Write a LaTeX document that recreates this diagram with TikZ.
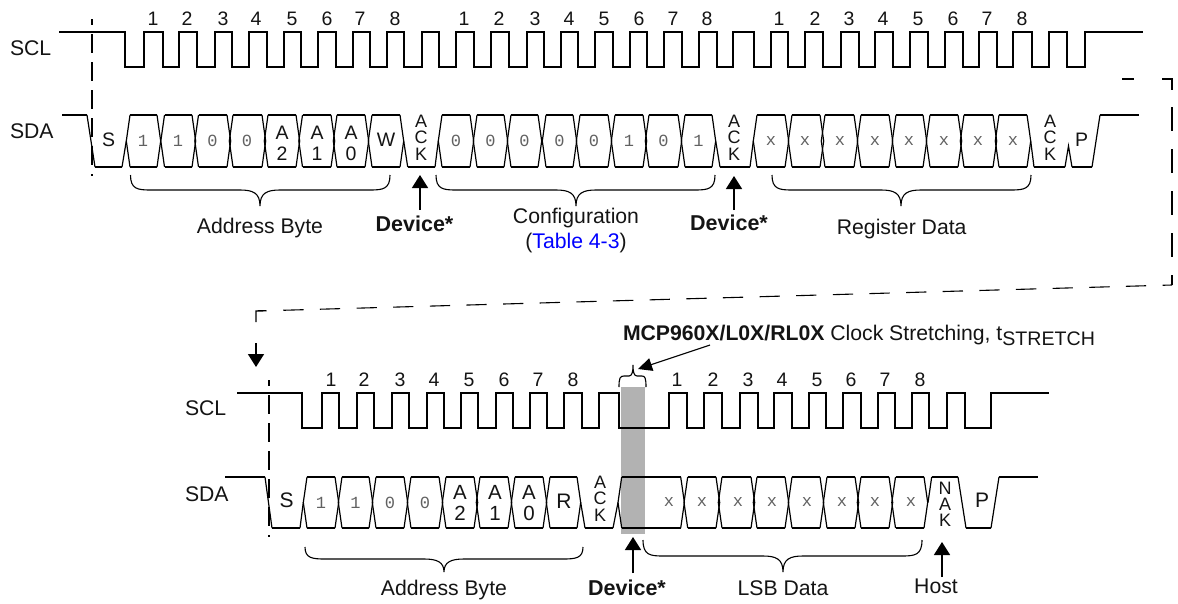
\documentclass[tikz,border=0pt]{standalone}
\usepackage{fontspec}
\setmainfont{Liberation Sans}
\newfontfamily\monof{Liberation Mono}
\usetikzlibrary{arrows.meta}
\definecolor{linkblue}{RGB}{0,0,255}
\tikzset{
  sig/.style={line width=1.6pt,line join=miter,black},
  thin slant/.style={line width=1.2pt,black},
  lab/.style={anchor=base,inner sep=0pt,outer sep=0pt,text=black!92,font=\fontsize{21.2}{24}\selectfont},
  num/.style={anchor=base,inner sep=0pt,outer sep=0pt,text=black!92,font=\fontsize{19.5}{20}\selectfont},
  bit/.style={anchor=base,inner sep=0pt,outer sep=0pt,text=black!92,font=\fontsize{19.5}{20}\selectfont},
  mono/.style={anchor=center,inner sep=0pt,outer sep=0pt,text=black!62,font=\monof\fontsize{17}{20}\selectfont},
  stack/.style={anchor=base,inner sep=0pt,outer sep=0pt,text=black!92,align=center,font=\fontsize{18}{16.3}\selectfont},
  boldlab/.style={lab,font=\bfseries\fontsize{21.5}{24}\selectfont},
  brace/.style={line width=1.1pt,black},
  upar/.style={line width=1.6pt,black,-{Triangle[length=13pt,width=16pt]}},
  vdash/.style={line width=1.6pt,black,dash pattern=on 19pt off 9pt},
  rdash/.style={line width=1.4pt,black,dash pattern=on 23.5pt off 18.5pt},
  sdash/.style={line width=1.1pt,black,dash pattern=on 20.3pt off 16.35pt},
}
% hexagonal data cell: left, right, top, bottom
\newcommand{\hexcell}[4]{%
  \draw[sig] (#1,#3)--(#2,#3) (#1,#4)--(#2,#4);
  \draw[thin slant] (#1,#3)--({#1-3.7},{(#3+#4)/2})--(#1,#4) (#2,#3)--({#2+3.7},{(#3+#4)/2})--(#2,#4);
}
\newcommand{\curlybrace}[6]{% x1, xmid, x2, yend, yline, ytip
  \draw[brace] (#1,#4) .. controls (#1,{#5-1}) and ({#1+7},#5) .. ({#1+20},#5)
    -- ({#2-20},#5) .. controls ({#2-7},#5) and (#2,{#5+3}) .. (#2,#6)
    .. controls (#2,{#5+3}) and ({#2+7},#5) .. ({#2+20},#5)
    -- ({#3-20},#5) .. controls ({#3-7},#5) and (#3,{#5-1}) .. (#3,#4);
}
\begin{document}
\begin{tikzpicture}[x=1pt,y=-1pt]
\useasboundingbox (0,0) rectangle (1178,603);
% stretch bar
\fill[black!30] (621,387) rectangle (645,534);
% top SCL
\draw[sig] (59,32) -| (125,67) -| (144,32) -| (163,67) -| (179,32) -| (197,67) -| (215,32) -| (232,67) -| (249,32) -| (267,67) -| (284,32) -| (301,67) -| (318,32) -| (336,67) -| (353,32) -| (370,67) -| (387,32) -| (404,67) -| (422,32) -| (439,67) -| (456,32) -| (474,67) -| (491,32) -| (509,67) -| (527,32) -| (544,67) -| (561,32) -| (578,67) -| (595,32) -| (613,67) -| (630,32) -| (647,67) -| (664,32) -| (682,67) -| (699,32) -| (717,67) -| (733,32) -| (754,67) -| (771,32) -| (788,67) -| (805,32) -| (823,67) -| (841,32) -| (859,67) -| (875,32) -| (893,67) -| (910,32) -| (928,67) -| (945,32) -| (963,67) -| (979,32) -| (997,67) -| (1013,32) -| (1032,67) -| (1049,32) -| (1067,67) -| (1085,32) -- (1143,32);
% bottom SCL
\draw[sig] (237,393) -| (302,428) -| (322,393) -| (339,428) -| (357,393) -| (374,428) -| (392,393) -| (409,428) -| (427,393) -| (444,428) -| (461,393) -| (478,428) -| (496,393) -| (513,428) -| (530,393) -| (547,428) -| (564,393) -| (582,428) -| (599,393) -| (619,428) -| (669,393) -| (687,428) -| (704,393) -| (722,428) -| (740,393) -| (758,428) -| (774,393) -| (792,428) -| (809,393) -| (826,428) -| (843,393) -| (861,428) -| (878,393) -| (895,428) -| (912,393) -| (929,428) -| (947,393) -| (965,428) -| (991,393) -- (1049,393);
% top SDA
\draw[sig] (62,115) -- (87,115);
\draw[thin slant] (87,115) -- (95,167);
\draw[sig] (95,167) -- (122,167);
\draw[thin slant] (122,167) -- (126.3,141);
\foreach \a/\b in {130/157,164.5/192,198.5/227,233/262,268/296,302.5/331,337/365,372/400,442/470,477/504,511/538,546/573,580/608,615/643,649/678,685/712,757/785,792/820,825/854,861/889,896/923,930/958,964/993,999/1027}
  {\hexcell{\a}{\b}{115}{167}}
\draw[thin slant] (403.7,141) -- (407.7,167) (438.3,141) -- (435,167);
\draw[sig] (407.7,167) -- (435,167);
\draw[thin slant] (715.7,141) -- (720,167) (753.3,141) -- (750,167);
\draw[sig] (720,167) -- (750,167);
\draw[thin slant] (1030.7,141) -- (1034,167);
\draw[sig] (1034,167) -- (1065,167);
\draw[thin slant] (1065,167) -- (1068.5,146) -- (1072,167);
\draw[sig] (1072,167) -- (1092,167);
\draw[thin slant] (1092,167) -- (1100,115);
\draw[sig] (1100,115) -- (1139,115);
% bottom SDA
\draw[sig] (225,477) -- (265,477);
\draw[thin slant] (265,477) -- (272,528);
\draw[sig] (272,528) -- (300,528);
\draw[thin slant] (300,528) -- (303.3,502.5);
\foreach \a/\b in {307/335,342/369,376/404,411/439,446/474,480/508,515/543,550/577,621.7/680.7,687.7/716,722/751,757/785,792/820,827/855,861/889,895.5/924}
  {\hexcell{\a}{\b}{477}{528}}
\draw[thin slant] (580.7,502.5) -- (585,528) (618,502.5) -- (613,528);
\draw[sig] (585,528) -- (613,528);
\draw[thin slant] (928,502.5) -- (931.7,477);
\draw[sig] (931.7,477) -- (958,477);
\draw[thin slant] (958,477) -- (966,528);
\draw[sig] (966,528) -- (991,528);
\draw[thin slant] (991,528) -- (999,477);
\draw[sig] (999,477) -- (1038,477);
% clock numbers
\foreach \x [count=\i] in {153,187,223,256,292,327,360,395}
  \node[num] (na\i) at (\x,25) {\i};
\foreach \x [count=\i] in {464,499,535,569,604,639,673,707}
  \node[num] (nb\i) at (\x,25) {\i};
\foreach \x [count=\i] in {779,815,849,883,918,953,987,1022}
  \node[num] (nc\i) at (\x,25) {\i};
\foreach \x [count=\i] in {331,364,400,434,469,504,538,573}
  \node[num] (nd\i) at (\x,386) {\i};
\foreach \x [count=\i] in {677,713,748,782,817,851,885,920}
  \node[num] (ne\i) at (\x,386) {\i};
% signal names
\node[lab,anchor=base west] (scla) at (10,55) {SCL};
\node[lab,anchor=base west] (sdaa) at (10,138) {SDA};
\node[lab,anchor=base west] (sclb) at (185,415) {SCL};
\node[lab,anchor=base west] (sdab) at (185,501) {SDA};
% bit labels, top
\node[bit] (sa) at (108.7,146) {S};
\foreach \x/\t [count=\i] in {143/1,178/1,212.5/0,247/0}
  \node[mono] (ba\i) at (\x,141) {\t};
\foreach \x/\t [count=\i] in {282/2,317/1,351/0}
  \node[stack,font=\fontsize{19.5}{20.5}\selectfont] (ca\i) at (\x,160) {A\\\t};
\node[bit] (wa) at (386,146) {W};
\node[stack] (acka) at (421,160) {A\\C\\K};
\foreach \x/\t [count=\i] in {456/0,490.5/0,524.5/0,559.5/0,594/0,629/1,663.5/0,698.5/1}
  \node[mono] (bb\i) at (\x,141) {\t};
\node[stack] (ackb) at (734,160) {A\\C\\K};
\foreach \x [count=\i] in {771,805,840,875,909,944,978,1013}
  \node[mono] (bc\i) at (\x,141) {x};
\node[stack] (ackc) at (1050,160) {A\\C\\K};
\node[bit] (pa) at (1081.7,146.7) {P};
% bit labels, bottom
\node[bit,font=\fontsize{21}{20}\selectfont] (sb) at (286.7,507) {S};
\foreach \x/\t [count=\i] in {321/1,355.5/1,390/0,425/0}
  \node[mono] (bd\i) at (\x,502.5) {\t};
\foreach \x/\t [count=\i] in {460/2,495/1,529/0}
  \node[stack,font=\fontsize{20.5}{21.2}\selectfont] (cd\i) at (\x,520.7) {A\\\t};
\node[bit,font=\fontsize{21}{20}\selectfont] (rb) at (564,508) {R};
\node[stack] (ackd) at (600,521) {A\\C\\K};
\foreach \x [count=\i] in {669,702,738,772,807,842,875,911}
  \node[mono] (be\i) at (\x,502.5) {x};
\node[stack,font=\fontsize{18}{15.9}\selectfont] (nak) at (945,526.7) {N\\A\\K};
\node[bit,font=\fontsize{21}{20}\selectfont] (pb) at (982,507) {P};
% field labels
\node[lab] (addra) at (260,233) {Address Byte};
\node[boldlab] (deva) at (414.5,231.7) {Device*};
\node[lab] (conf) at (576,223) {Configuration};
\node[lab] (tab) at (576,248) {(\textcolor{linkblue}{Table 4-3})};
\node[boldlab] (devb) at (729,230.7) {Device*};
\node[lab] (reg) at (901.7,234) {Register Data};
\node[lab] (addrb) at (444,595) {Address Byte};
\node[boldlab] (devc) at (627,595) {Device*};
\node[lab] (lsb) at (783,595) {LSB Data};
\node[lab] (host) at (936,593) {Host};
\node[lab,anchor=base west] (mcp) at (623,340) {\textbf{MCP960X/L0X/RL0X} Clock Stretching, t\raisebox{-5pt}{\fontsize{19.6}{20}\selectfont STRETCH}};
% braces
\curlybrace{130.5}{260}{390}{175}{190}{206}
\curlybrace{436}{576}{715}{175}{190}{206}
\curlybrace{772}{901}{1031}{175}{190}{206}
\curlybrace{305}{444}{583}{547}{559}{572}
\curlybrace{643}{783}{922}{540}{556}{572}
\draw[brace] (619,387) .. controls (619,378) and (620,376) .. (624,376) -- (629,376) .. controls (632,376) and (633,372) .. (633,365) .. controls (633,372) and (634,376) .. (637,376) -- (642,376) .. controls (645,376) and (646,378) .. (646,387);
% arrows
\coordinate (ua1) at (420,210); \coordinate (ua2) at (420,175);
\coordinate (ub1) at (734,210); \coordinate (ub2) at (734,176);
\coordinate (uc1) at (633,573); \coordinate (uc2) at (633,537);
\coordinate (ud1) at (942,577); \coordinate (ud2) at (942,542);
\coordinate (da1) at (256,343); \coordinate (da2) at (256,367);
\coordinate (st1) at (710,345); \coordinate (st2) at (638,369);
\draw[upar] (ua1) -- (ua2);
\draw[upar] (ub1) -- (ub2);
\draw[upar] (uc1) -- (uc2);
\draw[upar] (ud1) -- (ud2);
\draw[upar] (da1) -- (da2);
\draw[line width=1.1pt,black,-{Triangle[length=14pt,width=13pt]}] (st1) -- (st2);
% dashed guides
\coordinate (va1) at (92,19); \coordinate (va2) at (92,175.5);
\coordinate (vb1) at (269,380); \coordinate (vb2) at (269,537);
\draw[vdash,dash phase=13pt] (va1) -- (va2);
\draw[vdash,dash phase=13pt] (vb1) -- (vb2);
% wrap-around line
\coordinate (w1) at (1122,79); \coordinate (w2) at (1134,79);
\coordinate (w3) at (1162,79); \coordinate (w4) at (1172,79); \coordinate (w5) at (1172,90);
\coordinate (w6) at (1172,107); \coordinate (w7) at (1172,285);
\coordinate (w8) at (282,310.3); \coordinate (w9) at (266.5,310.7);
\coordinate (w10) at (256,311); \coordinate (w11) at (256,322);
\draw[line width=1.4pt] (w1) -- (w2);
\draw[line width=1.4pt] (w3) -- (w4) -- (w5);
\draw[rdash] (w6) -- (w7);
\draw[sdash,dash phase=10.8pt] (w7) -- (w8);
\draw[line width=1.4pt] (w9) -- (w10) -- (w11);
\end{tikzpicture}
\end{document}
